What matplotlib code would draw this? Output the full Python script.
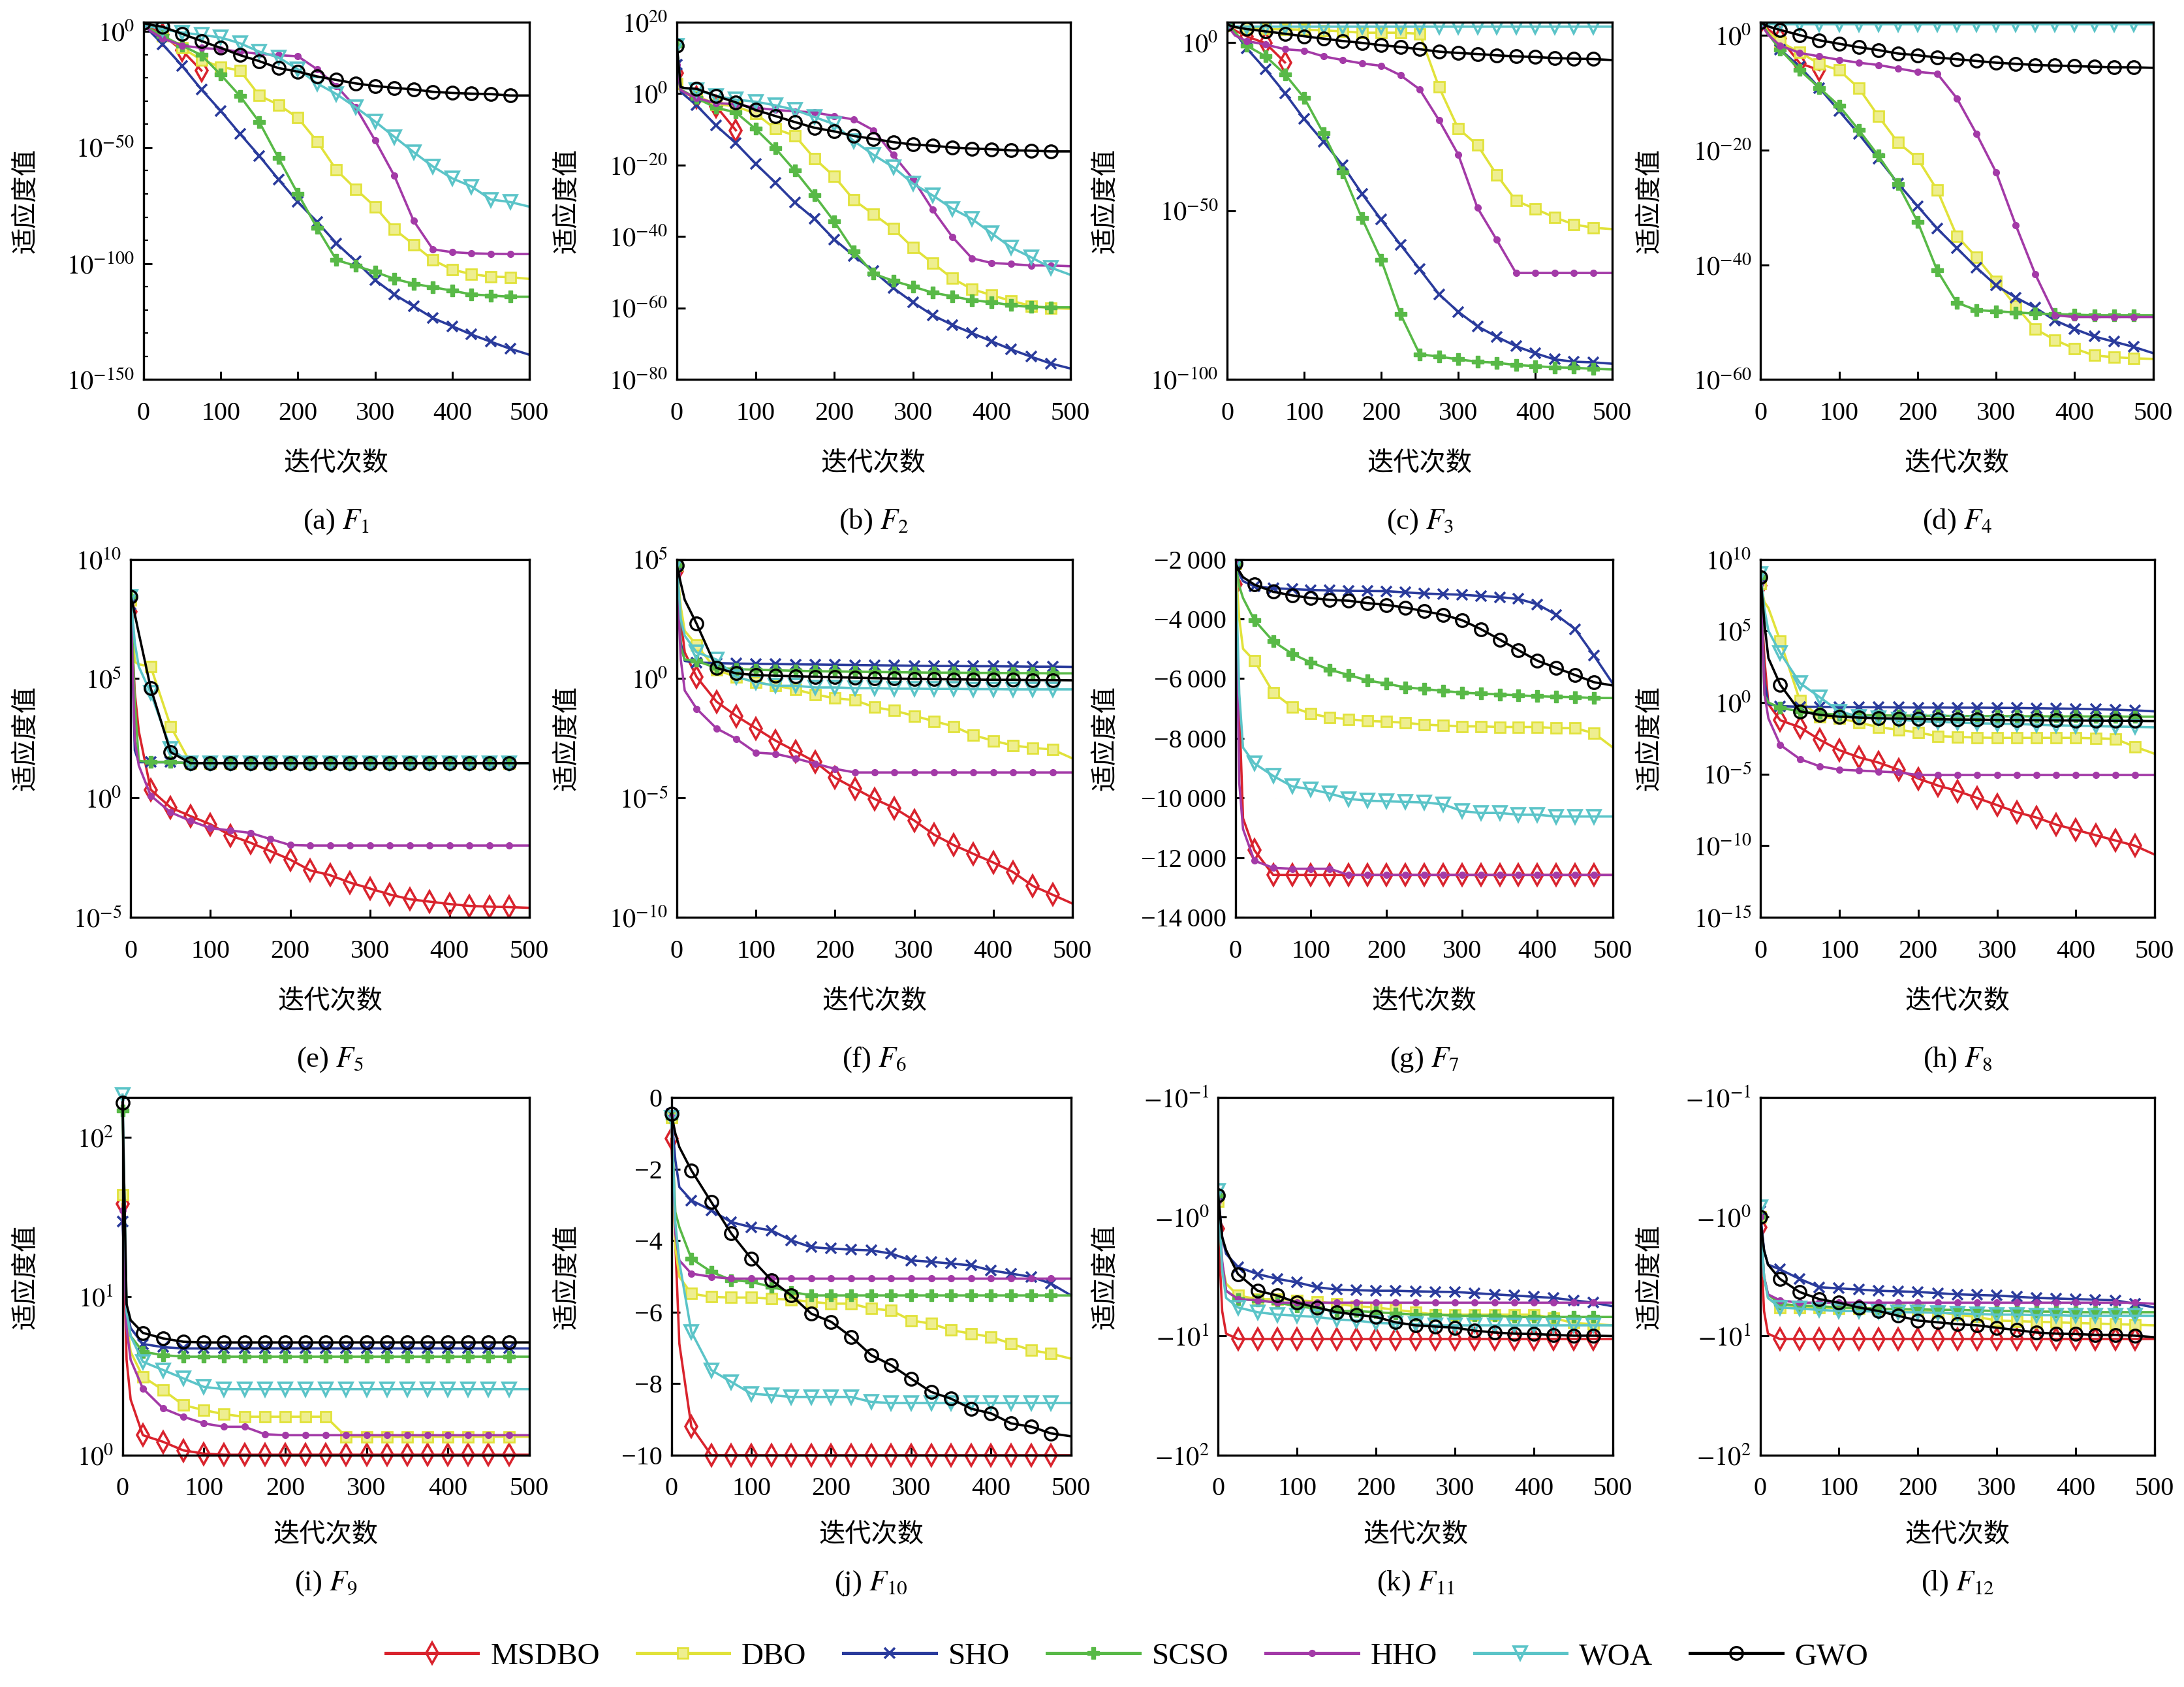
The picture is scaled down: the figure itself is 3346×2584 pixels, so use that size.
import numpy as np
import matplotlib
matplotlib.use("Agg")
import matplotlib.pyplot as plt
from matplotlib.lines import Line2D
from matplotlib.ticker import FixedLocator, NullLocator, FuncFormatter

plt.rcParams["font.family"] = ["Liberation Serif", "DejaVu Serif"]
plt.rcParams["mathtext.fontset"] = "stix"
plt.rcParams["axes.unicode_minus"] = True

nan = np.nan

# iteration grid shared by all curves
iters = [0, 5, 10, 25, 50, 75, 100, 125, 150, 175, 200, 225, 250, 275, 300,
         325, 350, 375, 400, 425, 450, 475, 500]
algos = ["MSDBO", "DBO", "SHO", "SCSO", "HHO", "WOA", "GWO"]

# ---- F1 (log10 of fitness) ----
f1_msdbo = [4.6, 3, 1.5, -1.5, -8.2, -16.8, nan, nan, nan, nan, nan, nan, nan, nan, nan, nan, nan, nan, nan, nan, nan, nan, nan]
f1_dbo = [3.5, 2, 0.5, -2, -7.1, -12.2, -15.3, -16.8, -27.6, -31.6, -37.2, -47.4, -59.7, -67.9, -75.5, -85.2, -91.8, -98.5, -102.6, -104.6, -105.6, -105.9, -106.6]
f1_sho = [3.5, 1.5, -0.5, -5.6, -14.8, -25, -34.2, -44.1, -53.6, -63.8, -73.5, -82.1, -91.3, -99, -107.1, -113.3, -118.4, -123.5, -127, -130.6, -133.7, -136.7, -139.3]
f1_scso = [3.5, 2, 0.8, -2, -6.1, -10.2, -18.6, -27.8, -39, -54.6, -69.9, -84.7, -98.5, -101, -103.6, -106.6, -108.7, -110.2, -111.7, -113.3, -113.8, -114.3, -114.3]
f1_hho = [3.5, 1.5, 0, -3, -6.1, -7.1, -7.7, -8.7, -9.7, -10.2, -10.7, -16.3, -23.5, -32.7, -46.9, -62.2, -81.6, -93.9, -95.1, -95.6, -95.8, -95.9, -95.9]
f1_woa = [3.5, 2.5, 2, 1, -0.5, -1.5, -2.6, -5.1, -8.7, -11.2, -16.3, -22.4, -27, -32.7, -38.8, -45.4, -52, -58.2, -63.3, -66.8, -72.4, -73.5, -75.5]
f1_gwo = [3.6, 3.2, 2.8, 2, -1, -4.1, -7.1, -10.2, -12.8, -15.8, -17.3, -19.4, -20.9, -22.4, -23.5, -24.3, -25, -26, -26.5, -26.8, -27, -27.6, -27.6]

# ---- F2 ----
f2_msdbo = [5.6, 0.7, 0, -1, -3.6, -10.3, nan, nan, nan, nan, nan, nan, nan, nan, nan, nan, nan, nan, nan, nan, nan, nan, nan]
f2_dbo = [2.7, 0.5, 0, -0.7, -3, -3.6, -5.6, -9.9, -11.8, -18.2, -23.2, -29.8, -33.8, -37.8, -43.1, -47.4, -51.7, -54.7, -56.4, -58, -59.4, -60, -60.2]
f2_sho = [8, 0.5, -0.5, -3.3, -9, -13.9, -19.6, -24.9, -30.5, -35.1, -40.8, -45.4, -49.7, -54.4, -58.4, -62, -64.7, -67, -69.3, -71.6, -73.6, -75.5, -76.9]
f2_scso = [13.4, 1, 0.5, -1.3, -4, -5.3, -9.9, -15.3, -21.6, -28.5, -35.8, -44.1, -50.4, -52.4, -54, -55.7, -56.7, -57.8, -58.4, -59.2, -59.7, -59.8, -59.8]
f2_hho = [8, 1, 0.3, -1.3, -2.7, -3, -4, -4.6, -5, -5.3, -6.3, -7.3, -10.3, -17.2, -23.9, -32.5, -40.1, -46.1, -47.4, -47.7, -48.1, -48.1, -48.3]
f2_woa = [13.4, 1.8, 1.5, 1, -0.7, -1.7, -2.3, -3.3, -4.6, -6.6, -8.6, -13.3, -17.2, -20.6, -25.2, -28.5, -32.2, -35.1, -39.1, -43.1, -45.8, -48.7, -50.7]
f2_gwo = [13.4, 1.8, 1.5, 1.3, -0.7, -2.5, -4.6, -6.3, -8, -9.6, -10.6, -11.9, -12.7, -13.6, -14.3, -14.6, -15.1, -15.4, -15.6, -15.9, -16, -16.2, -16.2]

# ---- F3 ----
f3_msdbo = [6, 4.5, 3.5, 1.75, -0.35, -6, nan, nan, nan, nan, nan, nan, nan, nan, nan, nan, nan, nan, nan, nan, nan, nan, nan]
f3_dbo = [4.9, 4.6, 4.4, 4.2, 3.9, 3.8, 3.7, 3.5, 3.2, 2.8, 2.8, 2.8, 2.5, -13.3, -25.6, -30.5, -39.3, -47, -49.4, -51.9, -54, -55, -55.4]
f3_sho = [5.3, 4, 3, -1.75, -8.1, -15.1, -22.8, -29.5, -36.5, -44.9, -52.6, -60, -67.3, -74.7, -79.9, -84.2, -87.3, -90.1, -92.2, -94, -94.7, -94.9, -95.3]
f3_scso = [5.3, 4, 3, -1, -4.2, -9.5, -16.5, -27, -38.6, -52.2, -64.5, -80.6, -92.5, -93.2, -94, -94.7, -95, -95.7, -96, -96.4, -96.5, -96.8, -97]
f3_hho = [5.6, 3.5, 2, 0.35, -0.7, -2.1, -2.5, -4.2, -5.3, -6.3, -7, -9.8, -14, -23.1, -33.3, -49.1, -58.6, -68.4, -68.4, -68.4, -68.4, -68.4, -68.4]
f3_woa = [5.5, 4.8, 4.7, 4.6, 4.6, 4.6, 4.6, 4.6, 4.6, 4.6, 4.6, 4.6, 4.6, 4.6, 4.6, 4.6, 4.6, 4.6, 4.6, 4.6, 4.6, 4.6, 4.6]
f3_gwo = [5.3, 4.8, 4.5, 3.9, 3.2, 2.5, 1.75, 1.05, 0.35, -0.2, -0.9, -1.4, -2.1, -2.8, -3.2, -3.5, -3.9, -4.2, -4.4, -4.7, -4.9, -5, -5.3]

# ---- F4 ----
f4_msdbo = [2.3, 1.5, 1, -0.6, -4.9, -6.1, nan, nan, nan, nan, nan, nan, nan, nan, nan, nan, nan, nan, nan, nan, nan, nan, nan]
f4_dbo = [2.3, 1.5, 0.5, -1.2, -3, -5, -6.1, -9.2, -14.1, -18.7, -21.5, -27, -35, -38.7, -42.9, -47.2, -51.2, -53.1, -54.6, -55.8, -56.1, -56.3, -56.4]
f4_sho = [2.3, 1.2, 0.2, -2.5, -5.5, -9.2, -13.2, -17.2, -21.5, -25.8, -29.8, -33.7, -37.1, -40.5, -43.6, -45.7, -47.5, -49.7, -51.2, -52.5, -53.4, -54.3, -55.4]
f4_scso = [2.3, 1.2, 0.2, -2.5, -6.1, -9.2, -12.3, -16.5, -21, -26, -32.5, -41, -46.6, -47.9, -48.1, -48.3, -48.5, -48.6, -48.7, -48.8, -48.8, -48.8, -48.8]
f4_hho = [2.3, 1, 0, -1.8, -3.1, -3.7, -4.3, -4.8, -5.2, -5.8, -6.4, -6.7, -11, -17.2, -23.9, -33.1, -41.7, -48.8, -49.1, -49.1, -49.1, -49.1, -49.1]
f4_woa = [2.3, 1.9, 1.9, 1.9, 1.9, 1.9, 1.9, 1.9, 1.9, 1.9, 1.9, 1.9, 1.9, 1.9, 1.9, 1.9, 1.9, 1.9, 1.9, 1.9, 1.9, 1.9, 1.9]
f4_gwo = [2.3, 1.8, 1.5, 0.9, 0, -0.9, -1.5, -2.1, -2.6, -3.2, -3.5, -3.9, -4.2, -4.5, -4.8, -5, -5.2, -5.3, -5.4, -5.5, -5.6, -5.6, -5.7]

# ---- F5 ----
f5_msdbo = [7.8, 4.4, 2.8, 0.35, -0.4, -0.76, -1.1, -1.57, -1.87, -2.22, -2.58, -3.03, -3.23, -3.54, -3.79, -4.04, -4.24, -4.34, -4.44, -4.52, -4.55, -4.57, -4.6]
f5_dbo = [8.3, 5.7, 5.6, 5.5, 3.0, 1.46, 1.46, 1.46, 1.46, 1.46, 1.46, 1.46, 1.46, 1.46, 1.46, 1.46, 1.46, 1.46, 1.46, 1.46, 1.46, 1.46, 1.46]
f5_sho = [8.1, 2, 1.5, 1.5, 1.5, 1.46, 1.46, 1.46, 1.46, 1.46, 1.46, 1.46, 1.46, 1.46, 1.46, 1.46, 1.46, 1.46, 1.46, 1.46, 1.46, 1.46, 1.46]
f5_scso = [8.43, 4, 1.56, 1.5, 1.5, 1.46, 1.46, 1.46, 1.46, 1.46, 1.46, 1.46, 1.46, 1.46, 1.46, 1.46, 1.46, 1.46, 1.46, 1.46, 1.46, 1.46, 1.46]
f5_hho = [8.1, 2.4, 1.36, 0.1, -0.6, -0.96, -1.26, -1.36, -1.46, -1.72, -1.97, -1.99, -1.99, -1.99, -1.99, -1.99, -1.99, -1.99, -1.99, -1.99, -1.99, -1.99, -1.99]
f5_woa = [8.43, 6.5, 5.5, 4.4, 2.07, 1.46, 1.46, 1.46, 1.46, 1.46, 1.46, 1.46, 1.46, 1.46, 1.46, 1.46, 1.46, 1.46, 1.46, 1.46, 1.46, 1.46, 1.46]
f5_gwo = [8.43, 7.7, 6.9, 4.6, 1.92, 1.46, 1.46, 1.46, 1.46, 1.46, 1.46, 1.46, 1.46, 1.46, 1.46, 1.46, 1.46, 1.46, 1.46, 1.46, 1.46, 1.46, 1.46]

# ---- F6 ----
f6_msdbo = [4.5, 2.5, 1.1, 0.07, -0.96, -1.56, -2.08, -2.6, -3.04, -3.49, -4.15, -4.6, -5.04, -5.42, -5.94, -6.53, -6.97, -7.34, -7.7, -8.1, -8.68, -9.05, -9.42]
f6_dbo = [4.75, 3, 2, 1.4, 0.37, 0.07, -0.15, -0.3, -0.45, -0.67, -0.82, -0.9, -1.2, -1.34, -1.56, -1.78, -2.0, -2.37, -2.6, -2.8, -2.9, -2.97, -3.34]
f6_sho = [4.75, 1.5, 0.74, 0.67, 0.65, 0.63, 0.62, 0.61, 0.6, 0.59, 0.58, 0.57, 0.56, 0.55, 0.54, 0.53, 0.53, 0.52, 0.52, 0.51, 0.5, 0.5, 0.49]
f6_scso = [4.75, 1.3, 0.8, 0.74, 0.45, 0.4, 0.37, 0.35, 0.33, 0.31, 0.3, 0.29, 0.28, 0.27, 0.26, 0.25, 0.25, 0.24, 0.24, 0.23, 0.23, 0.22, 0.22]
f6_hho = [4.4, 0.8, -0.5, -1.26, -2.08, -2.52, -3.1, -3.15, -3.34, -3.56, -3.78, -3.93, -3.93, -3.93, -3.93, -3.93, -3.93, -3.93, -3.93, -3.93, -3.93, -3.93, -3.93]
f6_woa = [4.9, 2.5, 1.8, 1.1, 0.8, 0.07, -0.15, -0.3, -0.3, -0.37, -0.37, -0.4, -0.4, -0.42, -0.42, -0.43, -0.43, -0.44, -0.44, -0.45, -0.45, -0.45, -0.45]
f6_gwo = [4.75, 4, 3.3, 2.3, 0.45, 0.22, 0.15, 0.12, 0.1, 0.08, 0.06, 0.04, 0.02, 0, -0.01, -0.02, -0.03, -0.04, -0.05, -0.05, -0.06, -0.06, -0.07]

# ---- F7 (linear fitness) ----
f7_msdbo = [-2850, -7000, -10680, -11750, -12580, -12580, -12580, -12580, -12580, -12580, -12580, -12580, -12580, -12580, -12580, -12580, -12580, -12580, -12580, -12580, -12580, -12580, -12580]
f7_dbo = [-2140, -4000, -5000, -5400, -6470, -6950, -7180, -7300, -7360, -7420, -7440, -7480, -7540, -7570, -7600, -7600, -7620, -7620, -7620, -7660, -7660, -7830, -8310]
f7_sho = [-2140, -2500, -2735, -2910, -2970, -3000, -3030, -3045, -3060, -3065, -3070, -3110, -3150, -3170, -3190, -3230, -3270, -3330, -3510, -3860, -4340, -5230, -6170]
f7_scso = [-2140, -2900, -3300, -4040, -4750, -5170, -5460, -5700, -5880, -6060, -6170, -6290, -6350, -6410, -6470, -6500, -6530, -6560, -6590, -6610, -6620, -6650, -6650]
f7_hho = [-2140, -9500, -11040, -12100, -12340, -12370, -12370, -12370, -12580, -12580, -12580, -12580, -12580, -12580, -12580, -12580, -12580, -12580, -12580, -12580, -12580, -12580, -12580]
f7_woa = [-2140, -6500, -8310, -8840, -9260, -9610, -9710, -9850, -10030, -10090, -10110, -10130, -10150, -10210, -10440, -10500, -10500, -10560, -10560, -10620, -10620, -10620, -10620]
f7_gwo = [-2140, -2400, -2600, -2850, -3090, -3210, -3300, -3360, -3390, -3470, -3530, -3620, -3740, -3860, -4040, -4340, -4690, -5050, -5400, -5640, -5880, -6120, -6230]

# ---- F8 ----
f8_msdbo = [8.15, 3, -0.12, -1.24, -1.73, -2.6, -3.33, -3.83, -4.2, -4.69, -5.31, -5.8, -6.18, -6.67, -7.16, -7.66, -8.03, -8.52, -8.89, -9.26, -9.63, -10, -10.62]
f8_dbo = [8.3, 7, 6.6, 4.3, 0.12, -0.99, -1.11, -1.4, -1.73, -1.9, -2.1, -2.35, -2.4, -2.45, -2.47, -2.47, -2.47, -2.47, -2.47, -2.5, -2.54, -3.09, -3.58]
f8_sho = [8.77, 1.5, -0.12, -0.25, -0.3, -0.3, -0.32, -0.33, -0.33, -0.34, -0.35, -0.35, -0.36, -0.36, -0.37, -0.38, -0.4, -0.42, -0.44, -0.47, -0.5, -0.55, -0.62]
f8_scso = [8.77, 0.5, 0, -0.37, -0.62, -0.75, -0.86, -0.88, -0.9, -0.91, -0.92, -0.93, -0.94, -0.95, -0.95, -0.96, -0.96, -0.97, -0.97, -0.98, -0.98, -0.99, -0.99]
f8_hho = [8.3, 0.6, -1.11, -2.96, -3.95, -4.45, -4.69, -4.75, -4.82, -4.88, -5.06, -5.06, -5.06, -5.06, -5.06, -5.06, -5.06, -5.06, -5.06, -5.06, -5.06, -5.06, -5.06]
f8_woa = [9, 6.5, 5, 3.46, 1.36, 0.37, -0.62, -0.99, -1.11, -1.2, -1.3, -1.35, -1.4, -1.45, -1.48, -1.5, -1.55, -1.6, -1.62, -1.65, -1.68, -1.7, -1.73]
f8_gwo = [8.77, 5.5, 3.1, 1.24, -0.62, -0.86, -0.99, -1.05, -1.1, -1.12, -1.15, -1.17, -1.19, -1.2, -1.22, -1.23, -1.24, -1.25, -1.26, -1.27, -1.28, -1.29, -1.3]

# ---- F9 ----
f9_msdbo = [1.58, 0.6, 0.35, 0.126, 0.084, 0.03, 0.01, 0.003, 0.003, 0.003, 0.003, 0.003, 0.003, 0.003, 0.003, 0.003, 0.003, 0.003, 0.003, 0.003, 0.003, 0.003, 0.003]
f9_dbo = [1.64, 0.85, 0.65, 0.494, 0.41, 0.315, 0.284, 0.258, 0.242, 0.242, 0.242, 0.242, 0.242, 0.116, 0.116, 0.116, 0.116, 0.116, 0.116, 0.116, 0.116, 0.116, 0.116]
f9_sho = [1.47, 0.92, 0.8, 0.7, 0.68, 0.672, 0.672, 0.672, 0.672, 0.672, 0.672, 0.672, 0.672, 0.672, 0.672, 0.672, 0.672, 0.672, 0.672, 0.672, 0.672, 0.672, 0.672]
f9_scso = [2.17, 0.9, 0.75, 0.651, 0.63, 0.62, 0.62, 0.62, 0.62, 0.62, 0.62, 0.62, 0.62, 0.62, 0.62, 0.62, 0.62, 0.62, 0.62, 0.62, 0.62, 0.62, 0.62]
f9_hho = [1.54, 0.8, 0.6, 0.42, 0.294, 0.242, 0.2, 0.179, 0.179, 0.132, 0.126, 0.126, 0.126, 0.126, 0.126, 0.126, 0.126, 0.126, 0.126, 0.126, 0.126, 0.126, 0.126]
f9_woa = [2.27, 0.9, 0.75, 0.588, 0.536, 0.483, 0.43, 0.416, 0.416, 0.416, 0.416, 0.416, 0.416, 0.416, 0.416, 0.416, 0.416, 0.416, 0.416, 0.416, 0.416, 0.416, 0.416]
f9_gwo = [2.22, 0.95, 0.85, 0.77, 0.735, 0.714, 0.71, 0.71, 0.71, 0.71, 0.71, 0.71, 0.71, 0.71, 0.71, 0.71, 0.71, 0.71, 0.71, 0.71, 0.71, 0.71, 0.71]

# ---- F10 (linear fitness) ----
f10_msdbo = [-1.15, -4.08, -6.88, -9.2, -10, -10, -10, -10, -10, -10, -10, -10, -10, -10, -10, -10, -10, -10, -10, -10, -10, -10, -10]
f10_dbo = [-0.55, -4.2, -5.01, -5.48, -5.57, -5.59, -5.59, -5.62, -5.65, -5.71, -5.76, -5.76, -5.9, -5.95, -6.23, -6.32, -6.5, -6.6, -6.69, -6.88, -7.06, -7.16, -7.3]
f10_sho = [-0.45, -1.75, -2.5, -2.87, -3.15, -3.48, -3.62, -3.71, -3.99, -4.18, -4.22, -4.25, -4.27, -4.36, -4.55, -4.59, -4.64, -4.69, -4.83, -4.92, -5.01, -5.2, -5.53]
f10_scso = [-0.55, -3.2, -3.62, -4.5, -4.87, -5.1, -5.15, -5.29, -5.43, -5.53, -5.53, -5.53, -5.53, -5.53, -5.53, -5.53, -5.53, -5.53, -5.53, -5.53, -5.53, -5.53, -5.53]
f10_hho = [-0.54, -3.8, -4.55, -4.92, -5.01, -5.06, -5.06, -5.06, -5.06, -5.06, -5.06, -5.06, -5.06, -5.06, -5.06, -5.06, -5.06, -5.06, -5.06, -5.06, -5.06, -5.06, -5.06]
f10_woa = [-0.55, -3.5, -4.6, -6.55, -7.62, -7.95, -8.28, -8.32, -8.37, -8.37, -8.37, -8.37, -8.51, -8.54, -8.54, -8.54, -8.54, -8.54, -8.54, -8.54, -8.54, -8.54, -8.54]
f10_gwo = [-0.45, -1.0, -1.38, -2.03, -2.92, -3.8, -4.5, -5.1, -5.53, -6.04, -6.27, -6.69, -7.2, -7.48, -7.86, -8.23, -8.42, -8.7, -8.83, -9.11, -9.2, -9.39, -9.47]

# ---- F11 (log10 of |fitness|, fitness is negative) ----
f11_msdbo = [0.1, 0.79, 0.98, 1.025, 1.025, 1.025, 1.025, 1.025, 1.025, 1.025, 1.025, 1.025, 1.025, 1.025, 1.025, 1.025, 1.025, 1.025, 1.025, 1.025, 1.025, 1.025, 1.025]
f11_dbo = [-0.13, 0.4, 0.56, 0.66, 0.69, 0.69, 0.7, 0.71, 0.73, 0.75, 0.76, 0.78, 0.8, 0.82, 0.82, 0.82, 0.82, 0.82, 0.82, 0.85, 0.89, 0.9, 0.91]
f11_sho = [-0.18, 0.17, 0.31, 0.42, 0.48, 0.52, 0.55, 0.59, 0.61, 0.615, 0.62, 0.62, 0.625, 0.628, 0.63, 0.64, 0.65, 0.66, 0.67, 0.68, 0.7, 0.72, 0.75]
f11_scso = [-0.18, 0.4, 0.62, 0.69, 0.7, 0.72, 0.75, 0.77, 0.79, 0.79, 0.8, 0.81, 0.82, 0.82, 0.83, 0.83, 0.83, 0.84, 0.84, 0.84, 0.84, 0.84, 0.84]
f11_hho = [-0.13, 0.37, 0.62, 0.69, 0.7, 0.72, 0.72, 0.72, 0.72, 0.72, 0.72, 0.72, 0.72, 0.72, 0.72, 0.72, 0.72, 0.72, 0.72, 0.72, 0.72, 0.72, 0.72]
f11_woa = [-0.22, 0.45, 0.68, 0.76, 0.8, 0.82, 0.83, 0.84, 0.86, 0.87, 0.89, 0.895, 0.9, 0.91, 0.91, 0.91, 0.91, 0.91, 0.91, 0.91, 0.91, 0.91, 0.91]
f11_gwo = [-0.18, 0.17, 0.28, 0.48, 0.62, 0.66, 0.72, 0.76, 0.8, 0.82, 0.84, 0.885, 0.91, 0.92, 0.93, 0.955, 0.97, 0.98, 0.983, 0.99, 0.997, 0.997, 1.0]

# ---- F12 ----
f12_msdbo = [0.09, 0.79, 0.98, 1.025, 1.025, 1.025, 1.025, 1.025, 1.025, 1.025, 1.025, 1.025, 1.025, 1.025, 1.025, 1.025, 1.025, 1.025, 1.025, 1.025, 1.025, 1.025, 1.025]
f12_dbo = [0.0, 0.5, 0.68, 0.76, 0.76, 0.76, 0.765, 0.765, 0.77, 0.775, 0.78, 0.8, 0.82, 0.84, 0.87, 0.875, 0.88, 0.885, 0.89, 0.895, 0.9, 0.905, 0.91]
f12_sho = [-0.05, 0.28, 0.4, 0.44, 0.52, 0.59, 0.6, 0.61, 0.62, 0.625, 0.63, 0.64, 0.65, 0.655, 0.66, 0.67, 0.68, 0.685, 0.69, 0.695, 0.7, 0.73, 0.76]
f12_scso = [0.0, 0.5, 0.65, 0.73, 0.745, 0.75, 0.76, 0.765, 0.77, 0.775, 0.775, 0.78, 0.78, 0.785, 0.79, 0.79, 0.795, 0.795, 0.8, 0.8, 0.8, 0.8, 0.8]
f12_hho = [0.0, 0.5, 0.65, 0.7, 0.72, 0.72, 0.72, 0.72, 0.72, 0.72, 0.72, 0.72, 0.72, 0.72, 0.72, 0.72, 0.72, 0.72, 0.72, 0.72, 0.72, 0.72, 0.73]
f12_woa = [-0.08, 0.5, 0.68, 0.76, 0.77, 0.78, 0.79, 0.79, 0.795, 0.8, 0.8, 0.805, 0.81, 0.815, 0.82, 0.82, 0.825, 0.825, 0.83, 0.83, 0.83, 0.83, 0.83]
f12_gwo = [0.0, 0.28, 0.4, 0.52, 0.63, 0.69, 0.72, 0.76, 0.79, 0.83, 0.87, 0.885, 0.9, 0.91, 0.93, 0.95, 0.97, 0.98, 0.983, 0.99, 0.99, 0.997, 1.01]

# panel kind: "log" (exponents), "lin" (raw values), "neglog" (exponents of |negative value|)
panels = [
    ("a", "log", [f1_msdbo, f1_dbo, f1_sho, f1_scso, f1_hho, f1_woa, f1_gwo], (-150, 4.1), [-150, -100, -50, 0]),
    ("b", "log", [f2_msdbo, f2_dbo, f2_sho, f2_scso, f2_hho, f2_woa, f2_gwo], (-80, 20), [-80, -60, -40, -20, 0, 20]),
    ("c", "log", [f3_msdbo, f3_dbo, f3_sho, f3_scso, f3_hho, f3_woa, f3_gwo], (-100, 6), [-100, -50, 0]),
    ("d", "log", [f4_msdbo, f4_dbo, f4_sho, f4_scso, f4_hho, f4_woa, f4_gwo], (-60, 2.3), [-60, -40, -20, 0]),
    ("e", "log", [f5_msdbo, f5_dbo, f5_sho, f5_scso, f5_hho, f5_woa, f5_gwo], (-5, 10), [-5, 0, 5, 10]),
    ("f", "log", [f6_msdbo, f6_dbo, f6_sho, f6_scso, f6_hho, f6_woa, f6_gwo], (-10, 5), [-10, -5, 0, 5]),
    ("g", "lin", [f7_msdbo, f7_dbo, f7_sho, f7_scso, f7_hho, f7_woa, f7_gwo], (-14000, -2000), [-14000, -12000, -10000, -8000, -6000, -4000, -2000]),
    ("h", "log", [f8_msdbo, f8_dbo, f8_sho, f8_scso, f8_hho, f8_woa, f8_gwo], (-15, 10), [-15, -10, -5, 0, 5, 10]),
    ("i", "log", [f9_msdbo, f9_dbo, f9_sho, f9_scso, f9_hho, f9_woa, f9_gwo], (0, 2.25), [0, 1, 2]),
    ("j", "lin", [f10_msdbo, f10_dbo, f10_sho, f10_scso, f10_hho, f10_woa, f10_gwo], (-10, 0), [-10, -8, -6, -4, -2, 0]),
    ("k", "neglog", [f11_msdbo, f11_dbo, f11_sho, f11_scso, f11_hho, f11_woa, f11_gwo], (-1, 2), [-1, 0, 1, 2]),
    ("l", "neglog", [f12_msdbo, f12_dbo, f12_sho, f12_scso, f12_hho, f12_woa, f12_gwo], (-1, 2), [-1, 0, 1, 2]),
]

# axes boxes [left, bottom, width, height] in figure fractions
boxes = [
    [0.0657, 0.7750, 0.1767, 0.2120], [0.3099, 0.7750, 0.1802, 0.2120],
    [0.5619, 0.7750, 0.1763, 0.2120], [0.8061, 0.7750, 0.1798, 0.2120],
    [0.0599, 0.4562, 0.1824, 0.2123], [0.3099, 0.4562, 0.1811, 0.2123],
    [0.5657, 0.4562, 0.1728, 0.2123], [0.8061, 0.4562, 0.1805, 0.2123],
    [0.0561, 0.1374, 0.1862, 0.2119], [0.3074, 0.1374, 0.1830, 0.2119],
    [0.5578, 0.1374, 0.1807, 0.2119], [0.8059, 0.1374, 0.1807, 0.2119],
]
ylabel_x = [0.0114, 0.2593, 0.5059, 0.755]

styles = {
    "MSDBO": dict(color="#d9232d", marker="d", ms=8, mfc="none", mew=1.3),
    "DBO": dict(color="#e1e23a", marker="s", ms=5.5, mfc="#eeee90", mew=1.0),
    "SHO": dict(color="#2a3b9c", marker="x", ms=5.5, mew=1.3),
    "SCSO": dict(color="#58b947", marker="P", ms=6.5, mew=0.5),
    "HHO": dict(color="#a33aa7", marker="o", ms=3.5, mew=0.5),
    "WOA": dict(color="#5bc4c8", marker="v", ms=7, mfc="none", mew=1.3),
    "GWO": dict(color="black", marker="o", ms=7, mfc="none", mew=1.2),
}
mark_idx = [0] + list(range(3, 22))

cjk = "Noto Sans CJK SC"


def thousands(v, pos):
    s = f"{int(round(abs(v))):,}".replace(",", "\u2009")
    return ("\u2212" + s) if v < 0 else s


fig = plt.figure(figsize=(16.73, 12.92), dpi=200)

for k, (letter, kind, series, lim, ticks) in enumerate(panels):
    ax = fig.add_axes(boxes[k])
    x = np.array(iters)
    unclipped = letter in ("i", "j")
    for name, vals in zip(algos, series):
        v = np.array(vals, dtype=float)
        if kind == "log" or kind == "neglog":
            v = 10.0 ** v
        ax.plot(x, v, lw=1.3, markevery=mark_idx, label=name, clip_on=not unclipped,
                **styles[name])

    if kind == "log":
        ax.set_yscale("log")
        ax.set_ylim(10.0 ** lim[0], 10.0 ** lim[1])
        ax.yaxis.set_major_locator(FixedLocator([10.0 ** t for t in ticks]))
        ax.yaxis.set_major_formatter(FuncFormatter(lambda v, p: r"$10^{%d}$" % round(np.log10(v))))
    elif kind == "neglog":
        ax.set_yscale("log")
        ax.set_ylim(10.0 ** lim[1], 10.0 ** lim[0])
        ax.yaxis.set_major_locator(FixedLocator([10.0 ** t for t in ticks]))
        ax.yaxis.set_major_formatter(FuncFormatter(lambda v, p: r"$-10^{%d}$" % round(np.log10(v))))
    else:
        ax.set_ylim(lim)
        ax.yaxis.set_major_locator(FixedLocator(ticks))
        if letter == "g":
            ax.yaxis.set_major_formatter(FuncFormatter(thousands))
    if letter == "a":
        ax.yaxis.set_minor_locator(FixedLocator([10.0 ** t for t in range(-140, 0, 10) if t % 50]))
    else:
        ax.yaxis.set_minor_locator(NullLocator())
    ax.yaxis.set_minor_formatter(FuncFormatter(lambda v, p: ""))

    ax.set_xlim(0, 500)
    ax.set_xticks([0, 100, 200, 300, 400, 500])
    ax.tick_params(direction="in", length=4.5, width=1.1, labelsize=14.5, top=False, right=False)
    ax.tick_params(which="minor", direction="in", length=2.5, width=0.8, top=False, right=False)
    ax.tick_params(axis="x", pad=12)
    ax.tick_params(axis="y", pad=5)
    for sp in ax.spines.values():
        sp.set_linewidth(1.2)

    row = k // 4
    xl_y, cap_y = (-0.233, -0.397) if row < 2 else (-0.222, -0.358)
    ax.text(0.5, xl_y, "迭代次数", transform=ax.transAxes, ha="center", va="center",
            fontsize=14.5, family=cjk)
    ax.text(0.5, cap_y, "(%s) $F_{%d}$" % (letter, k + 1), transform=ax.transAxes,
            ha="center", va="center", fontsize=16)
    b = boxes[k]
    fig.text(ylabel_x[k % 4], b[1] + b[3] / 2, "适应度值", rotation=90, ha="center",
             va="center", fontsize=14.5, family=cjk)

handles = [Line2D([], [], lw=1.8, **styles[n]) for n in algos]
fig.legend(handles, algos, loc="center", bbox_to_anchor=(0.516, 0.018), ncol=7,
           frameon=False, fontsize=17, handlelength=3.0, handletextpad=0.4,
           columnspacing=1.2)

fig.savefig("out.png", dpi=200)
